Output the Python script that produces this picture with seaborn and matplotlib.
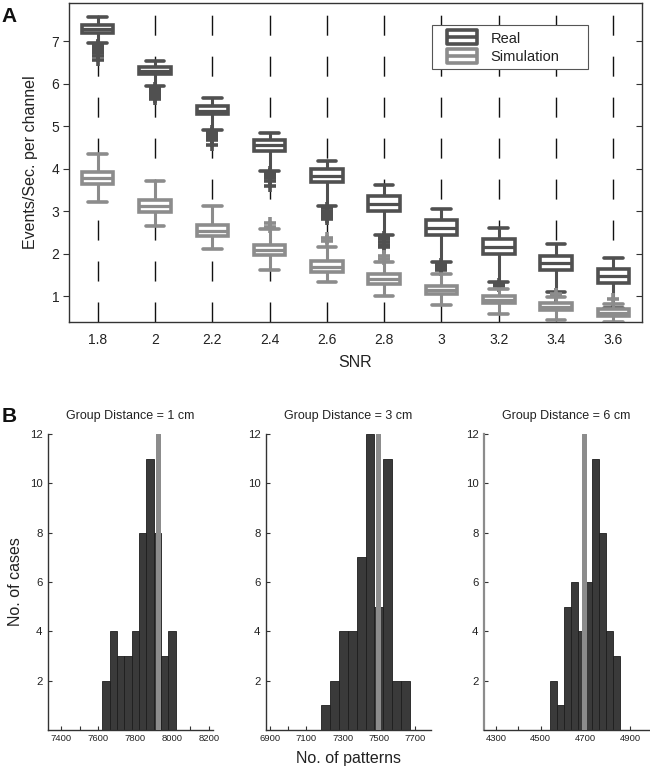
import numpy as np
import pandas as pd
import matplotlib
matplotlib.use("Agg")
import matplotlib.pyplot as plt
from matplotlib.path import Path
from matplotlib.lines import Line2D
from matplotlib.patches import Rectangle
import seaborn as sns

# STYLE
sns.set_theme(style="white")
plt.rcParams["font.family"] = ["Liberation Sans", "DejaVu Sans"]

REAL_COLOR = "#505050"
SIM_COLOR = "#8c8c8c"
TEXT_COLOR = "#222222"
AXIS_COLOR = "#333333"
BAR_COLOR = "#3a3a3a"

# DATA: panel A, box summaries per SNR
snr = [1.8, 2.0, 2.2, 2.4, 2.6, 2.8, 3.0, 3.2, 3.4, 3.6]
snr_labels = ["1.8", "2", "2.2", "2.4", "2.6", "2.8", "3", "3.2", "3.4", "3.6"]

real_hi = [7.56, 6.54, 5.67, 4.84, 4.18, 3.61, 3.05, 2.62, 2.24, 1.90]
real_q3 = [7.38, 6.40, 5.49, 4.69, 4.00, 3.37, 2.79, 2.36, 1.96, 1.65]
real_med = [7.28, 6.30, 5.37, 4.55, 3.84, 3.18, 2.61, 2.17, 1.79, 1.48]
real_q1 = [7.20, 6.22, 5.28, 4.42, 3.69, 3.00, 2.45, 1.99, 1.62, 1.31]
real_lo = [6.96, 5.94, 4.92, 3.96, 3.12, 2.44, 1.81, 1.33, 1.10, 0.73]
real_out = [[6.92, 6.88, 6.84, 6.80, 6.76, 6.72, 6.66, 6.56],
            [5.90, 5.86, 5.82, 5.78, 5.74, 5.70, 5.64],
            [4.88, 4.84, 4.80, 4.76, 4.72, 4.67, 4.55],
            [3.92, 3.88, 3.83, 3.78, 3.72, 3.60],
            [3.07, 3.02, 2.97, 2.92, 2.87, 2.82],
            [2.40, 2.35, 2.29, 2.22, 2.16],
            [1.76, 1.71, 1.66, 1.62],
            [1.29, 1.25],
            [1.06, 1.01],
            [0.69]]

sim_hi = [4.34, 3.71, 3.12, 2.59, 2.16, 1.81, 1.52, 1.18, 0.98, 0.82]
sim_q3 = [3.92, 3.26, 2.67, 2.22, 1.84, 1.53, 1.24, 1.00, 0.84, 0.71]
sim_med = [3.78, 3.12, 2.55, 2.09, 1.70, 1.41, 1.14, 0.92, 0.76, 0.62]
sim_q1 = [3.64, 2.98, 2.42, 1.97, 1.58, 1.29, 1.06, 0.85, 0.68, 0.54]
sim_lo = [3.22, 2.66, 2.12, 1.63, 1.34, 1.00, 0.81, 0.59, 0.45, 0.40]
sim_out = [[], [], [], [2.64, 2.72], [2.30, 2.37], [1.88, 1.95], [], [], [1.05], [0.95]]

# DATA: panel B, histograms of pattern counts
hist_titles = ["Group Distance = 1 cm", "Group Distance = 3 cm", "Group Distance = 6 cm"]
hist_counts = [[2, 4, 3, 3, 4, 8, 11, 8, 3, 4],
               [1, 2, 4, 4, 7, 12, 5, 11, 2, 2],
               [2, 1, 5, 6, 4, 6, 11, 8, 4, 3]]
hist_ranges = [(7622, 8020), (7180, 7672), (4540, 4855)]
hist_sim = [7922, 7496, 4692]
hist_xlims = [(7328, 8222), (6880, 7785), (4246, 4985)]
hist_ticks = [list(range(7400, 8201, 100)), list(range(6900, 7701, 100)), list(range(4300, 4901, 100))]

# GRAPH: figure
fig = plt.figure(figsize=(6.5, 7.71), dpi=100)

# ---------------- Panel A ----------------
ax = fig.add_axes([0.1062, 0.5824, 0.8815, 0.4137])
ax.set_xlim(1.7, 3.7)
ax.set_ylim(0.4, 7.9)

for x in snr:
    ax.plot([x, x], [0.4, 7.9], color="#111111", lw=1, dashes=(14.4, 15.1), zorder=1)


def draw_boxes(q1, med, q3, lo, hi, out, color):
    stats = [dict(q1=a, med=m, q3=b, whislo=l, whishi=h, fliers=f)
             for a, m, b, l, h, f in zip(q1, med, q3, lo, hi, out)]
    ax.bxp(stats, positions=snr, widths=0.11, capwidths=0.065, patch_artist=True,
           manage_ticks=False, zorder=3,
           boxprops=dict(facecolor="white", edgecolor=color, linewidth=2.6),
           whiskerprops=dict(color=color, linewidth=2.2, solid_capstyle="butt"),
           capprops=dict(color=color, linewidth=2.6),
           medianprops=dict(color=color, linewidth=2.3),
           flierprops=dict(marker="+", markersize=8, markeredgewidth=2.6,
                           markeredgecolor=color, linestyle="none"))


draw_boxes(real_q1, real_med, real_q3, real_lo, real_hi, real_out, REAL_COLOR)
draw_boxes(sim_q1, sim_med, sim_q3, sim_lo, sim_hi, sim_out, SIM_COLOR)

ax.set_xticks(snr)
ax.set_xticklabels(snr_labels)
ax.set_yticks([1, 2, 3, 4, 5, 6, 7])
ax.tick_params(axis="x", length=0, pad=8, labelsize=10, labelcolor=TEXT_COLOR)
ax.tick_params(axis="y", direction="out", length=4, width=0.8, color=AXIS_COLOR,
               pad=3, labelsize=10, labelcolor=TEXT_COLOR, left=True)
for spine in ax.spines.values():
    spine.set_edgecolor(AXIS_COLOR)
    spine.set_linewidth(1)
right = ax.secondary_yaxis("right")
right.set_yticks([1, 2, 3, 4, 5, 6, 7])
right.tick_params(direction="in", length=4, width=0.8, color=AXIS_COLOR, labelright=False)
right.spines["right"].set_visible(False)

ax.set_xlabel("SNR", fontsize=11.5, color=TEXT_COLOR, labelpad=6)
ax.set_ylabel("Events/Sec. per channel", fontsize=11.5, color=TEXT_COLOR, labelpad=10)

# legend: MATLAB-like frame drawn as a plain white rectangle
ax.add_patch(Rectangle((0.633, 0.793), 0.273, 0.138, transform=ax.transAxes, facecolor="white",
                       edgecolor="#555555", linewidth=0.8, zorder=4.5))
box_path = Path([(-1, -0.45), (1, -0.45), (1, 0.45), (-1, 0.45), (-1, -0.45), (-1, 0), (1, 0)],
                [Path.MOVETO, Path.LINETO, Path.LINETO, Path.LINETO, Path.CLOSEPOLY,
                 Path.MOVETO, Path.LINETO])
handles = [Line2D([], [], linestyle="none", marker=box_path, markersize=22, markerfacecolor="none",
                  markeredgecolor=c, markeredgewidth=2.6) for c in (REAL_COLOR, SIM_COLOR)]
leg = ax.legend(handles, ["Real", "Simulation"], loc="upper left", bbox_to_anchor=(0.643, 0.931),
                frameon=False, fontsize=10.5, handlelength=2.4, borderpad=0.45,
                labelspacing=0.3, handletextpad=0.8, borderaxespad=0)
leg.set_zorder(5)
for t in leg.get_texts():
    t.set_color(TEXT_COLOR)

# ---------------- Panel B ----------------
lefts = [0.0738, 0.4092, 0.7446]
for i in range(3):
    bx = fig.add_axes([lefts[i], 0.0532, 0.2538, 0.3839])
    lo, hi = hist_ranges[i]
    nb = len(hist_counts[i])
    width = (hi - lo) / nb
    df = pd.DataFrame({"patterns": [lo + width * (k + 0.5) for k in range(nb)],
                       "cases": hist_counts[i]})
    sns.histplot(data=df, x="patterns", weights="cases", bins=nb, binrange=(lo, hi), ax=bx,
                 color=BAR_COLOR, edgecolor="#1e1e1e", linewidth=0.6, alpha=1)
    bx.axvline(hist_sim[i], color=SIM_COLOR, lw=3.6, zorder=3)
    bx.set_xlim(*hist_xlims[i])
    bx.set_ylim(0, 12)
    bx.set_yticks([2, 4, 6, 8, 10, 12])
    bx.set_xticks(hist_ticks[i])
    bx.set_xticklabels([str(t) if k % 2 == 0 else "" for k, t in enumerate(hist_ticks[i])])
    bx.tick_params(axis="x", direction="in", length=3, width=0.8, color=AXIS_COLOR,
                   pad=3, labelsize=6.8, labelcolor=TEXT_COLOR, bottom=True)
    bx.tick_params(axis="y", direction="in", length=3, width=0.8, color=AXIS_COLOR,
                   pad=4, labelsize=8.2, labelcolor=TEXT_COLOR, left=True)
    bx.spines["top"].set_visible(False)
    bx.spines["right"].set_visible(False)
    bx.spines["left"].set_edgecolor(AXIS_COLOR if i < 2 else SIM_COLOR)
    bx.spines["left"].set_linewidth(1 if i < 2 else 1.6)
    bx.spines["bottom"].set_edgecolor(AXIS_COLOR)
    bx.spines["bottom"].set_linewidth(1)
    bx.set_title(hist_titles[i], fontsize=9, color=TEXT_COLOR, pad=11)
    bx.set_ylabel("")
    bx.set_xlabel("")
    if i == 0:
        bx.set_ylabel("No. of cases", fontsize=11.5, color=TEXT_COLOR, labelpad=5)
    if i == 1:
        bx.set_xlabel("No. of patterns", fontsize=11.5, color=TEXT_COLOR, labelpad=6)

# Panel letters
fig.text(0.002, 0.991, "A", fontsize=15, fontweight="bold", va="top", color="#111111")
fig.text(0.002, 0.472, "B", fontsize=15, fontweight="bold", va="top", color="#111111")

fig.savefig("out.png", dpi=100)
